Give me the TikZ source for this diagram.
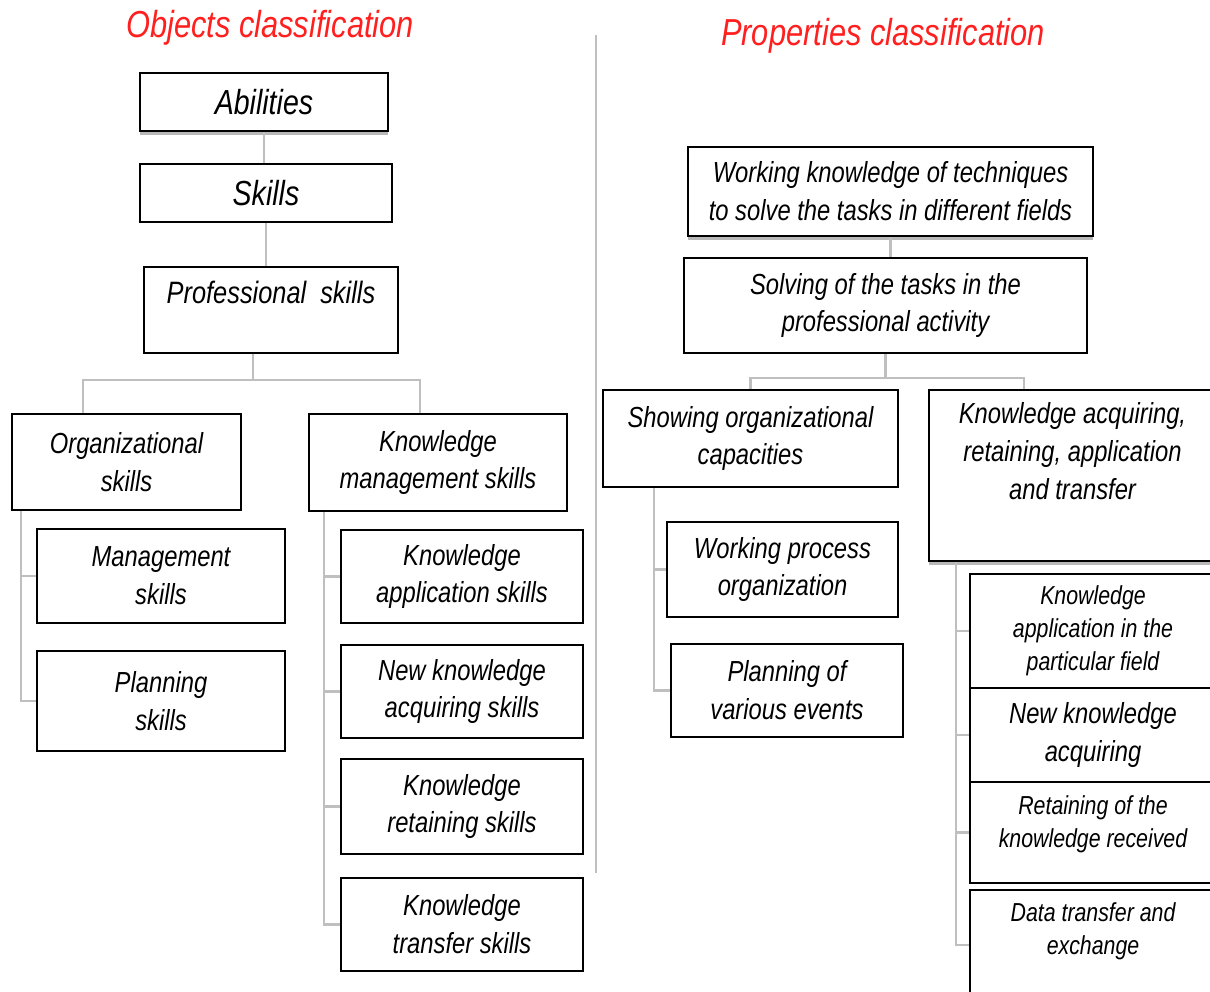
\documentclass[tikz,border=0pt]{standalone}
\usepackage{fontspec}
\setmainfont{Liberation Sans}[FakeStretch=0.82]
\usetikzlibrary{
    positioning,
    calc,
    shadows,
}
\newcommand{\pxu}{0.02cm}
\definecolor{linegray}{HTML}{BFBFBF}
\definecolor{titlered}{HTML}{FF1F1F}

\begin{document}
\begin{tikzpicture}[
    x=0.02cm, y=-0.02cm,
    box/.style={draw, line width=1pt, fill=white, text=black, align=center, inner sep=0pt,
                font=\fontsize{16.5}{21.5}\selectfont\itshape},
    boxsize/.style 2 args={minimum width=#1*\pxu, minimum height=#2*\pxu},
    bigtext/.style={font=\fontsize{19.8}{24}\selectfont\itshape},
    proftext/.style={font=\fontsize{17.6}{21.5}\selectfont\itshape},
    smalltext/.style={font=\fontsize{14.8}{18.7}\selectfont\itshape},
    lowshadow/.style={drop shadow={shadow xshift=0pt, shadow yshift=-2.5pt, fill=black!28, opacity=1}},
    conn/.style={draw=linegray, line width=1.2pt},
    titletext/.style={text=titlered, font=\fontsize{21.4}{24}\selectfont\itshape},
]
\useasboundingbox (0,0) rectangle (1210,991);

\node[titletext] (objTitle) at (270,28) {Objects classification};
\node[titletext] (propTitle) at (883,36) {Properties classification};
\draw[conn] (596,35) -- (596,873);

% objects
\node[box, bigtext, boxsize={248}{58}, lowshadow] (abilities) at (264,102) {Abilities};
\node[box, bigtext, boxsize={252}{58}] (skills) at (266,193) {Skills};
\node[box, proftext, boxsize={254}{86}] (profSkills) at (271,310) {Professional\ \ skills\\[-8pt] \strut};

\node[box, boxsize={229}{96}] (orgSkills) at (126.5,462) {Organizational\\skills};
\node[box, boxsize={258}{97}] (kmSkills) at (438,462.5) {Knowledge\\management skills};

\node[box, boxsize={248}{94}] (mgmtSkills) at (161,576) {Management\\skills};
\node[box, boxsize={248}{100}] (planSkills) at (161,701) {Planning\\skills};

\node[box, boxsize={242}{93}] (kAppSkills) at (462,576.5) {Knowledge\\application skills};
\node[box, boxsize={242}{93}] (newKSkills) at (462,691.5) {New knowledge\\acquiring skills};
\node[box, boxsize={242}{95}] (kRetSkills) at (462,806.5) {Knowledge\\retaining skills};
\node[box, boxsize={242}{93}] (kTransSkills) at (462,924.5) {Knowledge\\transfer skills};

\draw[conn] (abilities.south) -- (abilities.south |- skills.north);
\draw[conn] (skills.south) -- (skills.south |- profSkills.north);
\draw[conn] ($(profSkills.south west)+(110,0)$) -- ++(0,26) -| ($(orgSkills.north west)+(72,0)$);
\draw[conn] ($(profSkills.south west)+(110,0)$) -- ++(0,26) -| ($(kmSkills.north west)+(112,0)$);
\draw[conn] ($(orgSkills.south west)+(10,0)$) |- (mgmtSkills.west);
\draw[conn] ($(orgSkills.south west)+(10,0)$) |- (planSkills.west);
\foreach \n in {kAppSkills, newKSkills, kRetSkills, kTransSkills}
    \draw[conn] ($(kmSkills.south west)+(16,0)$) |- (\n.west);

% properties
\node[box, boxsize={405}{89}, lowshadow] (workKnow) at (890.5,191.5)
    {Working knowledge of techniques\\to solve the tasks in different fields};
\node[box, boxsize={403}{95}] (solving) at (885.5,305.5) {Solving of the tasks in the\\professional activity};

\node[box, boxsize={295}{97}] (showOrg) at (750.5,438.5) {Showing organizational\\capacities};
\node[box, boxsize={287}{171}, lowshadow] (kAcq) at (1072.5,475.5)
    {Knowledge acquiring,\\retaining, application\\and transfer\\ \strut};

\node[box, boxsize={231}{95}] (workProc) at (782.5,569.5) {Working process\\organization};
\node[box, boxsize={232}{93}] (planEvents) at (787,690.5) {Planning of\\various events};

\node[box, smalltext, boxsize={246}{114}] (kAppField) at (1093,631)
    {Knowledge\\application in the\\particular field};
\node[box, boxsize={246}{94}] (newKAcq) at (1093,735) {New knowledge\\acquiring};
\node[box, smalltext, boxsize={246}{101}] (retKnow) at (1093,832.5)
    {Retaining of the\\knowledge received\\[-12pt]\strut};
\node[box, smalltext, boxsize={246}{110}] (dataTrans) at (1093,945)
    {Data transfer and\\exchange\\[-6pt]\strut};

\draw[conn] (workKnow.south) -- (workKnow.south |- solving.north);
\draw[conn] (solving.south) -- ++(0,24) -| (showOrg.north);
\draw[conn] (solving.south) -- ++(0,24) -| ($(kAcq.north west)+(96,0)$);
\draw[conn] ($(showOrg.south west)+(52,0)$) |- (workProc.west);
\draw[conn] ($(showOrg.south west)+(52,0)$) |- (planEvents.west);
\foreach \n in {kAppField, newKAcq, retKnow, dataTrans}
    \draw[conn] ($(kAcq.south west)+(28,0)$) |- (\n.west);

\end{tikzpicture}
\end{document}
